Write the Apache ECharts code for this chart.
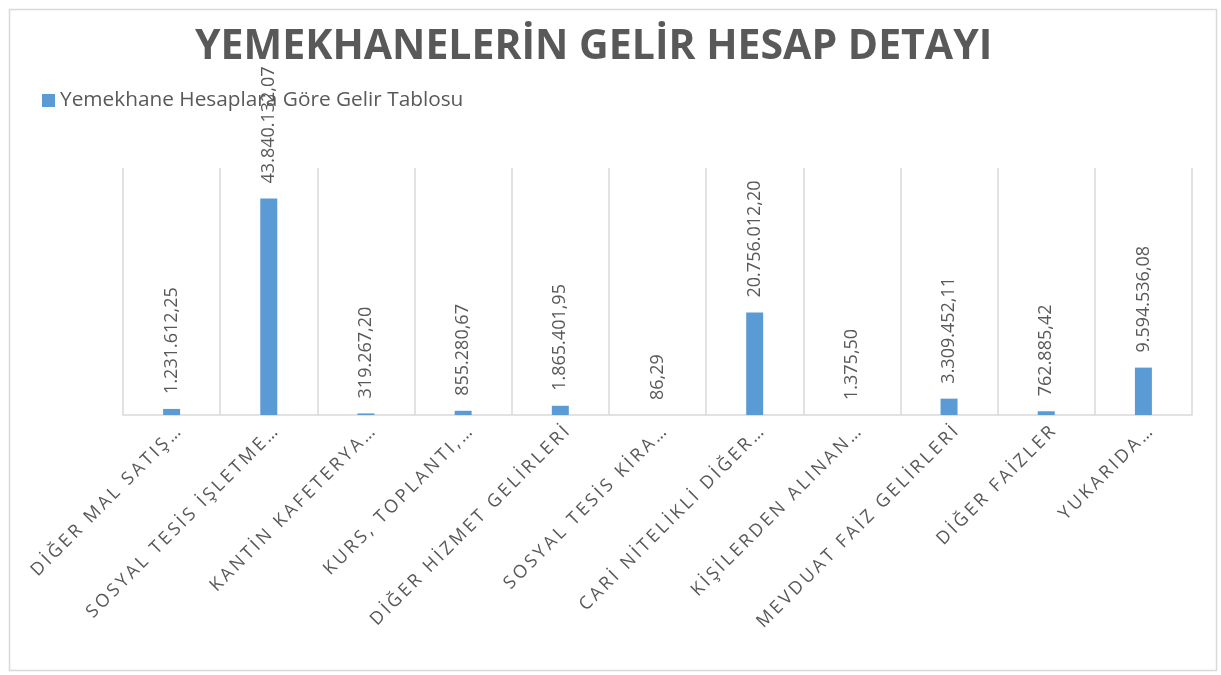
<!DOCTYPE html>
<html>
<head>
<meta charset="utf-8">
<script src="https://cdn.jsdelivr.net/npm/echarts@6/dist/echarts.min.js"></script>
<style>html,body{margin:0;padding:0;background:#fff;}#c{width:1221px;height:675px;}</style>
</head>
<body>
<div id="c"></div>
<script>
const titleText = 'YEMEKHANELERİN GELİR HESAP DETAYI';
const seriesName = 'Yemekhane Hesaplara Göre Gelir Tablosu';
const categories = [
  'DİĞER MAL SATIŞ…',
  'SOSYAL TESİS İŞLETME…',
  'KANTİN KAFETERYA…',
  'KURS, TOPLANTI,…',
  'DİĞER HİZMET GELİRLERİ',
  'SOSYAL TESİS KİRA…',
  'CARİ NİTELİKLİ DİĞER…',
  'KİŞİLERDEN ALINAN…',
  'MEVDUAT FAİZ GELİRLERİ',
  'DİĞER FAİZLER',
  'YUKARIDA…'
];
const values = [1231612.25, 43840132.07, 319267.20, 855280.67, 1865401.95, 86.29, 20756012.20, 1375.50, 3309452.11, 762885.42, 9594536.08];

function trFormat(v) {
  const parts = v.toFixed(2).split('.');
  const intPart = parts[0].replace(/\B(?=(\d{3})+(?!\d))/g, '.');
  return intPart + ',' + parts[1];
}
function spaced(s, sp) {
  return Array.from(s).join(sp);
}

const chart = echarts.init(document.getElementById('c'));
chart.setOption({
  animation: false,
  backgroundColor: '#fff',
  title: {
    text: titleText,
    left: 190,
    top: 22,
    textStyle: { fontFamily: 'Open Sans', fontWeight: 'bold', fontSize: 41, color: '#595959' }
  },
  legend: {
    left: 37,
    top: 85,
    itemWidth: 13,
    itemHeight: 13,
    icon: 'rect',
    itemGap: 5,
    textStyle: { fontFamily: 'Open Sans', fontSize: 20.8, color: '#595959' }
  },
  graphic: [{
    type: 'rect',
    left: 7, top: 7,
    shape: { width: 1207, height: 661 },
    style: { fill: 'none', stroke: '#d9d9d9', lineWidth: 1.5 },
    silent: true,
    z: -1
  }],
  grid: { left: 123, right: 29, top: 168, bottom: 260 },
  xAxis: {
    type: 'category',
    data: categories,
    axisLine: { lineStyle: { color: '#d9d9d9', width: 1.5 } },
    axisTick: { show: false },
    splitLine: { show: true, lineStyle: { color: '#d9d9d9', width: 1.5 } },
    axisLabel: {
      rotate: 45,
      interval: 0,
      margin: 8,
      verticalAlign: 'top',
      fontFamily: 'Open Sans',
      fontSize: 18,
      color: '#595959',
      formatter: function (v) { return spaced(v, '\u2009'); }
    }
  },
  yAxis: {
    type: 'value',
    min: 0,
    max: 50000000,
    show: false,
    splitLine: { show: false }
  },
  series: [{
    name: seriesName,
    type: 'bar',
    data: values,
    barWidth: 17,
    itemStyle: { color: '#5b9bd5' },
    label: {
      show: true,
      position: 'top',
      rotate: 90,
      align: 'left',
      verticalAlign: 'middle',
      distance: 15,
      fontFamily: 'Open Sans',
      fontSize: 18,
      color: '#595959',
      formatter: function (p) { return trFormat(p.value); }
    }
  }]
});
</script>
</body>
</html>
